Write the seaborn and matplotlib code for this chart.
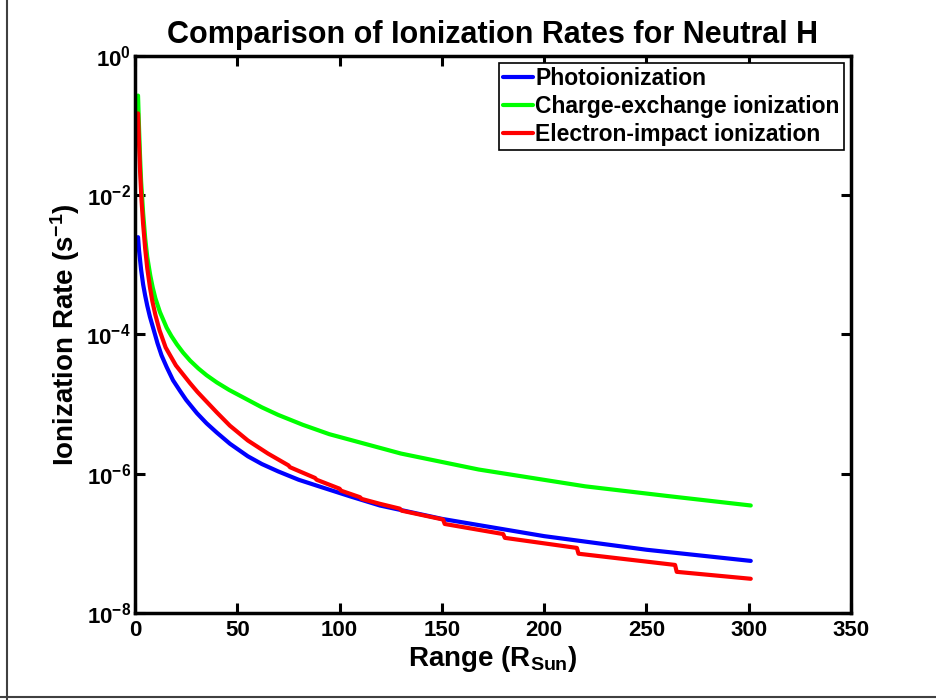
import numpy as np
import pandas as pd
import matplotlib
matplotlib.use("Agg")
import matplotlib.pyplot as plt
import seaborn as sns
from matplotlib.lines import Line2D
from matplotlib.ticker import FixedLocator, FixedFormatter, NullLocator

# ---------------- data ----------------
series_names = ["Photoionization", "Charge-exchange ionization", "Electron-impact ionization"]
series_colors = ["#0000ff", "#00ff00", "#ff0000"]

photo_r = [1.5, 2, 3, 4, 5, 6, 7.3, 9.8, 11, 13, 15.5, 18.6, 22, 25, 30.3, 35, 40, 46.4,
           55.2, 62, 70, 80, 92, 105, 119.7, 150, 200, 250, 301]
photo_rate = [2.5e-3, 1.6e-3, 8.5e-4, 5.2e-4, 3.6e-4, 2.6e-4, 1.8e-4, 1.0e-4, 7.5e-5,
              5.0e-5, 3.4e-5, 2.2e-5, 1.55e-5, 1.15e-5, 7.4e-6, 5.3e-6, 3.9e-6, 2.7e-6,
              1.78e-6, 1.38e-6, 1.08e-6, 8.2e-7, 6.3e-7, 4.75e-7, 3.5e-7, 2.25e-7,
              1.27e-7, 8.1e-8, 5.6e-8]

cx_r = [1.5, 2, 2.5, 3, 4, 5, 6, 7.5, 8.7, 10, 12.2, 15.5, 17.8, 20.5, 23.5, 27, 31,
        35, 40, 46, 54, 62, 70, 82, 95, 130, 168, 220, 260, 301]
cx_rate = [0.27, 0.09, 0.035, 0.016, 5.5e-3, 2.4e-3, 1.3e-3, 7.0e-4, 4.7e-4, 3.3e-4,
           2.1e-4, 1.25e-4, 9.5e-5, 7.2e-5, 5.5e-5, 4.2e-5, 3.25e-5, 2.6e-5, 2.05e-5,
           1.6e-5, 1.2e-5, 9.0e-6, 7.0e-6, 5.05e-6, 3.7e-6, 1.95e-6, 1.15e-6, 6.6e-7,
           4.8e-7, 3.5e-7]

ei_r = [1.5, 2, 2.5, 3.2, 4, 5, 6, 7.3, 8.5, 10, 12, 15, 20, 26.9, 30.5, 34.2, 40, 46.4,
        55.2, 65, 75, 75.8, 88, 88.8, 100, 100.8, 110, 110.8, 119.7, 129.5, 130.3,
        150.6, 151.4, 180, 180.8, 216, 216.8, 264, 264.8, 301]
ei_rate = [0.15, 0.055, 0.022, 8.5e-3, 3.8e-3, 1.7e-3, 9.0e-4, 4.8e-4, 3.0e-4, 1.9e-4,
           1.15e-4, 6.5e-5, 3.6e-5, 2.0e-5, 1.5e-5, 1.15e-5, 7.6e-6, 4.9e-6, 3.0e-6,
           1.95e-6, 1.32e-6, 1.24e-6, 8.7e-7, 8.2e-7, 6.1e-7, 5.7e-7, 4.6e-7, 4.35e-7,
           3.7e-7, 3.15e-7, 2.95e-7, 2.2e-7, 1.9e-7, 1.36e-7, 1.2e-7, 8.6e-8, 7.1e-8,
           4.9e-8, 3.9e-8, 3.1e-8]

x_ticks = [0, 50, 100, 150, 200, 250, 300, 350]
y_ticks = [1e-8, 1e-6, 1e-4, 1e-2, 1e0]
y_tick_labels = [r"$\mathbf{10^{-8}}$", r"$\mathbf{10^{-6}}$", r"$\mathbf{10^{-4}}$",
                 r"$\mathbf{10^{-2}}$", r"$\mathbf{10^{0}}$"]

title = "Comparison of Ionization Rates for Neutral H"
x_label = r"Range (R$_{\mathbf{Sun}}$)"
y_label = r"Ionization Rate (s$^{\mathbf{-1}}$)"

# ---------------- build long-form table ----------------
df = pd.concat([
    pd.DataFrame({"r": photo_r, "rate": photo_rate, "series": series_names[0]}),
    pd.DataFrame({"r": cx_r, "rate": cx_rate, "series": series_names[1]}),
    pd.DataFrame({"r": ei_r, "rate": ei_rate, "series": series_names[2]}),
], ignore_index=True)

# ---------------- style ----------------
sns.set_style("ticks")
plt.rcParams.update({
    "font.family": ["Liberation Sans", "DejaVu Sans"],
    "font.weight": "bold",
    "axes.labelweight": "bold",
    "axes.titleweight": "bold",
    "text.color": "black",
    "axes.labelcolor": "black",
    "xtick.color": "black",
    "ytick.color": "black",
    "axes.edgecolor": "black",
    "mathtext.fontset": "custom",
    "mathtext.rm": "Liberation Sans:bold",
    "mathtext.bf": "Liberation Sans:bold",
    "mathtext.it": "Liberation Sans:bold:italic",
    "mathtext.default": "bf",
})

fig = plt.figure(figsize=(9.36, 7.0), dpi=100)
ax = fig.add_axes([0.1442, 0.1243, 0.9092 - 0.1442, 0.92 - 0.1243])

sns.lineplot(data=df, x="r", y="rate", hue="series", hue_order=series_names,
             palette=dict(zip(series_names, series_colors)), estimator=None,
             sort=False, linewidth=3, legend=False, ax=ax)

ax.set_yscale("log")
ax.set_xlim(0, 350)
ax.set_ylim(1e-8, 1e0)

ax.xaxis.set_major_locator(FixedLocator(x_ticks))
ax.set_xticklabels([str(t) for t in x_ticks], fontsize=16, fontweight="bold",
                   color="black")
ax.yaxis.set_major_locator(FixedLocator(y_ticks))
ax.yaxis.set_major_formatter(FixedFormatter(y_tick_labels))
ax.yaxis.set_minor_locator(NullLocator())
ax.xaxis.set_minor_locator(NullLocator())
for lab in ax.get_yticklabels():
    lab.set_fontsize(16)
    lab.set_color("black")

ax.tick_params(axis="both", which="major", direction="in", length=7, width=2.2,
               top=True, right=True, colors="black", labelcolor="black")
ax.tick_params(axis="x", pad=5)
ax.tick_params(axis="y", pad=3)
for sp in ax.spines.values():
    sp.set_linewidth(2.5)
    sp.set_color("black")

ax.set_title(title, fontsize=22, fontweight="bold", pad=9, color="black")
ax.set_xlabel(x_label, fontsize=20, fontweight="bold", labelpad=2, color="black")
ax.set_ylabel(y_label, fontsize=20, fontweight="bold", labelpad=3, color="black")

leg = ax.legend(ax.get_lines()[:3], series_names, loc="upper right", fontsize=16.5,
                frameon=True, fancybox=False, edgecolor="black", framealpha=1,
                handlelength=1.3, handletextpad=0.1, labelspacing=0.2,
                borderpad=0.2, borderaxespad=0.3)
leg.get_frame().set_linewidth(1.2)
for t in leg.get_texts():
    t.set_color("black")

# outer frame lines of the original screenshot
fig.add_artist(Line2D([0.0075, 0.0075], [0, 1], transform=fig.transFigure,
                      color="#404040", linewidth=1.5))
fig.add_artist(Line2D([0, 1], [0.0043, 0.0043], transform=fig.transFigure,
                      color="#404040", linewidth=1.5))

fig.savefig("out.png", dpi=100, facecolor="white")
